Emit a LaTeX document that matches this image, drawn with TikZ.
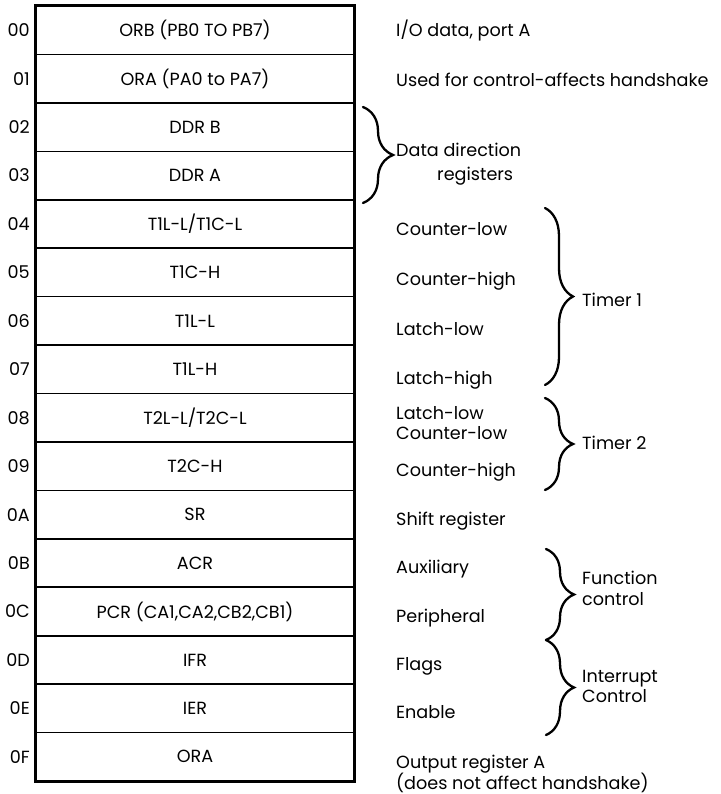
\documentclass[tikz,border=0pt]{standalone}
\usepackage{fontspec}
\setmainfont{Poppins}
\usetikzlibrary{decorations.pathreplacing}
\begin{document}
\begin{tikzpicture}[x=1pt,y=-1pt,
  txt/.style={font=\fontsize{17.6}{20}\selectfont},
  reg/.style={txt, draw, line width=1.6pt, minimum width=318pt, minimum height=48.44pt, inner sep=0pt},
  addr/.style={txt, anchor=east, inner sep=0pt},
  desc/.style={txt, anchor=base west, inner sep=0pt},
  brc/.style={decorate, decoration={brace, amplitude=#1}, line width=2.3pt, line cap=round},
  brc/.default=28pt
]
\useasboundingbox (0,0) rectangle (720,794);
\foreach \t [count=\i from 0] in {{ORB (PB0 TO PB7)},{ORA (PA0 to PA7)},{DDR B},{DDR A},{T1L-L/T1C-L},{T1C-H},{T1L-L},{T1L-H},{T2L-L/T2C-L},{T2C-H},{SR},{ACR},{PCR (CA1,CA2,CB2,CB1)},{IFR},{IER},{ORA}}
  \node[reg] (r\i) at (195,{6+48.44*(\i+0.5)}) {\t};
\foreach \a [count=\i from 0] in {00,01,02,03,04,05,06,07,08,09,0A,0B,0C,0D,0E,0F}
  \node[addr] (a\i) at (30,{6+48.44*(\i+0.5)}) {\a};
\draw[line width=2.8pt] (r0.north west) rectangle (r15.south east);
% descriptions
\node[desc] (d0) at (396,37) {I/O data, port A};
\node[desc] (d1) at (396,87) {Used for control-affects handshake};
\node[desc] (d2) at (396,157) {Data direction};
\node[desc] (d2b) at (437,181) {registers};
\node[desc] (d4) at (396,236) {Counter-low};
\node[desc] (d5) at (396,285) {Counter-high};
\node[desc] (d6) at (396,335) {Latch-low};
\node[desc] (d7) at (396,384) {Latch-high};
\node[desc] (d8) at (396,419) {Latch-low};
\node[desc] (d8b) at (396,439) {Counter-low};
\node[desc] (d9) at (396,476) {Counter-high};
\node[desc] (d10) at (396,525) {Shift register};
\node[desc] (d11) at (396,573) {Auxiliary};
\node[desc] (d12) at (396,622) {Peripheral};
\node[desc] (d13) at (396,670) {Flags};
\node[desc] (d14) at (396,718) {Enable};
\node[desc] (d15) at (396,768) {Output register A};
\node[desc] (d15b) at (396,789) {(does not affect handshake)};
\node[desc] (t1) at (582,306) {Timer 1};
\node[desc] (t2) at (582,449) {Timer 2};
\node[desc] (fc) at (582,584) {Function};
\node[desc] (fcb) at (582,605) {control};
\node[desc] (ic) at (582,682) {Interrupt};
\node[desc] (icb) at (582,702) {Control};
% braces
\coordinate (b1s) at (363,107); \coordinate (b1e) at (363,203);
\coordinate (b2s) at (545,208); \coordinate (b2e) at (545,385);
\coordinate (b3s) at (545,398); \coordinate (b3e) at (545,490);
\coordinate (b4s) at (546,549); \coordinate (b4m) at (546,640); \coordinate (b4e) at (546,735);
\draw[brc=30pt] (b1s) -- (b1e);
\draw[brc] (b2s) -- (b2e);
\draw[brc] (b3s) -- (b3e);
\draw[brc] (b4s) -- (b4m);
\draw[brc] (b4m) -- (b4e);
\end{tikzpicture}
\end{document}
